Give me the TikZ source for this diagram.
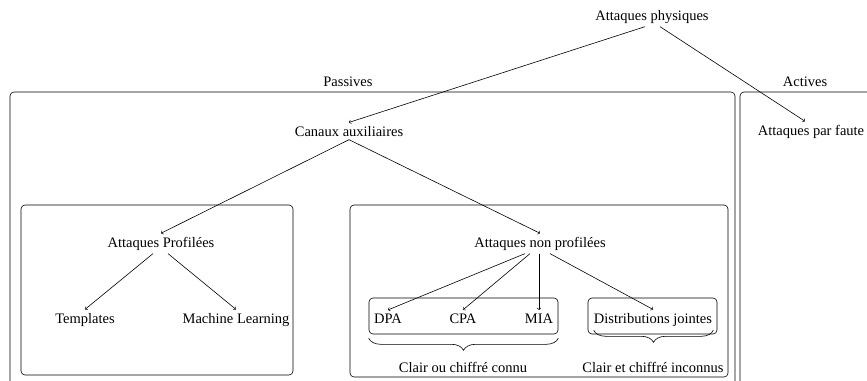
\documentclass[tikz,border=0pt]{standalone}
\usepackage{fontspec}
\setmainfont{Liberation Serif}
\usepackage{tikz}
\usetikzlibrary{positioning}
\usetikzlibrary{fit}
\usetikzlibrary{arrows}
\usetikzlibrary{decorations.pathreplacing}
\tikzset{frame/.style={draw, rounded corners=4pt, line width=0.6pt}}
\tikzset{arr/.style={->, line width=0.6pt}}
\tikzset{brace/.style={decorate, decoration={brace,mirror,amplitude=12pt}, line width=0.6pt}}

\begin{document}
\begin{tikzpicture}[x=1pt,y=-1pt,font=\fontsize{14.5}{17}\selectfont]
\useasboundingbox (0,0) rectangle (867,380);
% cadres
\draw[frame] (10,92) rectangle (735,400);
\draw[frame] (740,92) rectangle (890,400);
\draw[frame] (21,205) rectangle (293,375);
\draw[frame] (350,205) rectangle (728,377);
\node[anchor=base] (phys) at (652,20) {Attaques physiques};
\node[anchor=base] (passives) at (348,86) {Passives};
\node[anchor=base] (actives) at (805,86) {Actives};
\node[anchor=base] (canaux) at (349,136) {Canaux auxiliaires};
\node[anchor=base] (faute) at (811,135) {Attaques par faute};
\node[anchor=base] (prof) at (161,247) {Attaques Profilées};
\node[anchor=base] (templates) at (85,323) {Templates};
\node[anchor=base] (ml) at (236,323) {Machine Learning};
\node[anchor=base] (nonprof) at (540,247) {Attaques non profilées};
\node[anchor=base] (dpa) at (388,323) {DPA};
\node[anchor=base] (cpa) at (463,323) {CPA};
\node[anchor=base] (mia) at (539,323) {MIA};
\node[anchor=base] (distrib) at (653,323) {Distributions jointes};
\node[frame, fit={(369,298) (558,334)}, inner sep=0pt] (connu) {};
\node[frame, fit={(588,298) (717,334)}, inner sep=0pt] (inconnu) {};
% accolades
\draw[brace] ([yshift=-4]connu.south west) -- ([yshift=-4]connu.south east);
\draw[brace] ([shift={(6,-4)}]inconnu.south west) -- ([shift={(-4,-4)}]inconnu.south east);
\node[anchor=base] (clairconnu) at (463,372) {Clair ou chiffré connu};
\node[anchor=base] (clairinconnu) at (653,372) {Clair et chiffré inconnus};
% fleches
\draw[arr] ([xshift=-7]phys.south) -- (canaux.north);
\draw[arr] ([xshift=8]phys.south) -- ([xshift=-6]faute.north);
\draw[arr] (canaux.south) -- (prof.north);
\draw[arr] (canaux.south) -- (nonprof.north);
\draw[arr] ([xshift=-8]prof.south) -- (templates.north);
\draw[arr] ([xshift=7]prof.south) -- (ml.north);
\draw[arr] ([xshift=-15]nonprof.south) -- (dpa.north);
\draw[arr] ([xshift=-10]nonprof.south) -- (cpa.north);
\draw[arr] ([xshift=-1]nonprof.south) -- (mia.north);
\draw[arr] ([xshift=10]nonprof.south) -- (distrib.north);
\end{tikzpicture}
\end{document}
